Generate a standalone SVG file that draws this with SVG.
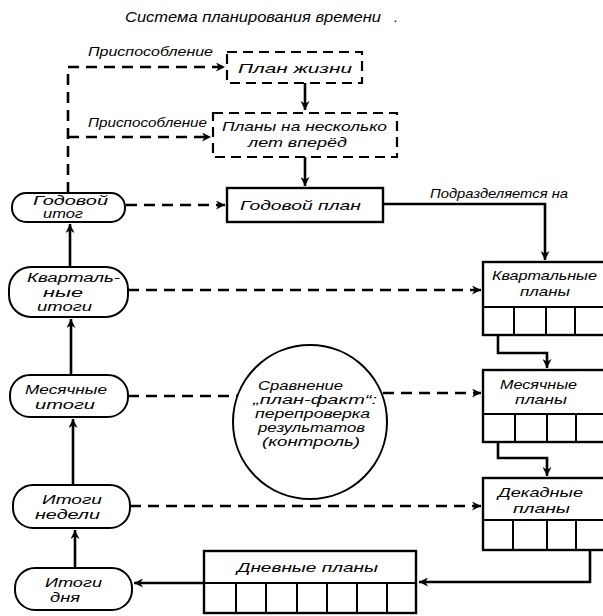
<svg xmlns="http://www.w3.org/2000/svg" width="603" height="616" viewBox="0 0 603 616">
<defs>
<marker id="ah" viewBox="0 0 10 10" refX="10" refY="5" markerWidth="9" markerHeight="9" markerUnits="userSpaceOnUse" orient="auto">
<path d="M0,0 L10,5 L0,10 L3,5 z" fill="#000"/>
</marker>
<style>
text{font-family:"Liberation Sans","DejaVu Sans",sans-serif;font-style:italic;font-size:13.5px;fill:#000}
.s{font-size:12.5px}
.box{fill:none;stroke:#000;stroke-width:2.4}
.dbox{fill:none;stroke:#000;stroke-width:2.2;stroke-dasharray:10 6}
.pill{fill:#fff;stroke:#000;stroke-width:2}
.ln{fill:none;stroke:#000;stroke-width:2.6}
.dl{fill:none;stroke:#000;stroke-width:2.6;stroke-dasharray:11 7}
.cell{stroke:#000;stroke-width:2}
</style>
</defs>
<rect width="603" height="616" fill="#fff"/>
<text x="125" y="22" style="font-size:14px" textLength="256" lengthAdjust="spacingAndGlyphs">Система планирования времени</text>
<text x="394" y="22" style="font-size:14px">.</text>

<g id="connectors">
<path class="dl" d="M68,193 V67 H225" marker-end="url(#ah)"/>
<path class="dl" d="M68,137 H211" marker-end="url(#ah)"/>
<path class="dl" d="M126,205 H225" marker-end="url(#ah)"/>
<path class="dl" d="M128,290 H481" marker-end="url(#ah)"/>
<path class="dl" d="M128,396 H237"/>
<path class="dl" d="M383,393 H481" marker-end="url(#ah)"/>
<path class="dl" d="M130,506 H481" marker-end="url(#ah)"/>
<path class="ln" d="M305,83 V110" marker-end="url(#ah)"/>
<path class="ln" d="M305,157 V186" marker-end="url(#ah)"/>
<path class="ln" d="M383,204 H545 V260" marker-end="url(#ah)"/>
<path class="ln" d="M498,335 V353 H547 V368" marker-end="url(#ah)"/>
<path class="ln" d="M498,442 V458 H547 V476" marker-end="url(#ah)"/>
<path class="ln" d="M590,550 V582 H419" marker-end="url(#ah)"/>
<path class="ln" d="M204,583 H134" marker-end="url(#ah)"/>
<path class="ln" d="M70,267 V224" marker-end="url(#ah)"/>
<path class="ln" d="M71,375 V319" marker-end="url(#ah)"/>
<path class="ln" d="M73,485 V419" marker-end="url(#ah)"/>
<path class="ln" d="M75,568 V530" marker-end="url(#ah)"/>
<text x="88" y="56" textLength="125" lengthAdjust="spacingAndGlyphs">Приспособление</text>
<text x="88" y="127" textLength="119" lengthAdjust="spacingAndGlyphs">Приспособление</text>
<text x="430" y="198" textLength="138" lengthAdjust="spacingAndGlyphs">Подразделяется на</text>
</g>

<g id="plan-zhizni">
<rect class="dbox" x="227" y="52" width="135" height="31"/>
<text x="238" y="73" textLength="114" lengthAdjust="spacingAndGlyphs">План  жизни</text>
</g>
<g id="plany-na-neskolko-let">
<rect class="dbox" x="213" y="113" width="184" height="44"/>
<text x="222" y="131" textLength="165" lengthAdjust="spacingAndGlyphs">Планы на несколько</text>
<text x="248" y="147" textLength="99" lengthAdjust="spacingAndGlyphs">лет вперёд</text>
</g>
<g id="godovoy-plan">
<rect class="box" x="227" y="188" width="156" height="34"/>
<text x="240" y="210" textLength="121" lengthAdjust="spacingAndGlyphs">Годовой план</text>
</g>

<g id="godovoy-itog">
<rect class="pill" x="12" y="193" width="113" height="29" rx="14"/>
<text class="s" x="33" y="205" textLength="75" lengthAdjust="spacingAndGlyphs">Годовой</text>
<text class="s" x="43" y="218" textLength="40" lengthAdjust="spacingAndGlyphs">итог</text>
</g>
<g id="kvartalnye-itogi">
<rect class="pill" x="9" y="267" width="119" height="50" rx="22"/>
<text class="s" x="27" y="282" textLength="93" lengthAdjust="spacingAndGlyphs">Кварталь-</text>
<text class="s" x="43" y="297" textLength="40" lengthAdjust="spacingAndGlyphs">ные</text>
<text class="s" x="37" y="311" textLength="55" lengthAdjust="spacingAndGlyphs">итоги</text>
</g>
<g id="mesyachnye-itogi">
<rect class="pill" x="10" y="375" width="118" height="42" rx="20"/>
<text class="s" x="25" y="394" textLength="82" lengthAdjust="spacingAndGlyphs">Месячные</text>
<text class="s" x="35" y="409" textLength="60" lengthAdjust="spacingAndGlyphs">итоги</text>
</g>
<g id="itogi-nedeli">
<rect class="pill" x="13" y="485" width="117" height="43" rx="20"/>
<text class="s" x="42" y="504" textLength="60" lengthAdjust="spacingAndGlyphs">Итоги</text>
<text class="s" x="35" y="519" textLength="65" lengthAdjust="spacingAndGlyphs">недели</text>
</g>
<g id="itogi-dnya">
<rect class="pill" x="15" y="568" width="117" height="42" rx="20"/>
<text class="s" x="45" y="587" textLength="57" lengthAdjust="spacingAndGlyphs">Итоги</text>
<text class="s" x="50" y="602" textLength="30" lengthAdjust="spacingAndGlyphs">дня</text>
</g>

<g id="sravnenie">
<circle cx="310" cy="422" r="77" fill="#fff" stroke="#000" stroke-width="2"/>
<text class="s" x="258" y="390" textLength="85" lengthAdjust="spacingAndGlyphs">Сравнение</text>
<text class="s" x="253" y="404" textLength="124" lengthAdjust="spacingAndGlyphs">„план-факт“:</text>
<text class="s" x="255" y="418" textLength="115" lengthAdjust="spacingAndGlyphs">перепроверка</text>
<text class="s" x="258" y="432" textLength="107" lengthAdjust="spacingAndGlyphs">результатов</text>
<text class="s" x="262" y="446" textLength="98" lengthAdjust="spacingAndGlyphs">(контроль)</text>
</g>

<g id="kvartalnye-plany">
<rect class="box" x="483" y="262" width="125" height="73"/>
<path class="cell" d="M483,307 H608 M514,307 V335 M546,307 V335 M575,307 V335"/>
<text x="492" y="280" textLength="105" lengthAdjust="spacingAndGlyphs">Квартальные</text>
<text x="520" y="296" textLength="50" lengthAdjust="spacingAndGlyphs">планы</text>
</g>
<g id="mesyachnye-plany">
<rect class="box" x="483" y="370" width="125" height="72"/>
<path class="cell" d="M483,414 H608 M515,414 V442 M547,414 V442 M576,414 V442"/>
<text x="500" y="389" textLength="77" lengthAdjust="spacingAndGlyphs">Месячные</text>
<text x="515" y="404" textLength="52" lengthAdjust="spacingAndGlyphs">планы</text>
</g>
<g id="dekadnye-plany">
<rect class="box" x="483" y="478" width="125" height="72"/>
<path class="cell" d="M483,520 H608 M513,520 V550 M547,520 V550 M576,520 V550"/>
<text x="498" y="497" textLength="85" lengthAdjust="spacingAndGlyphs">Декадные</text>
<text x="513" y="513" textLength="57" lengthAdjust="spacingAndGlyphs">планы</text>
</g>
<g id="dnevnye-plany">
<rect class="box" x="204" y="551" width="212" height="62"/>
<path class="cell" d="M204,583 H416 M236,583 V613 M266,583 V613 M297,583 V613 M327,583 V613 M357,583 V613 M387,583 V613"/>
<text x="237" y="572" textLength="141" lengthAdjust="spacingAndGlyphs">Дневные  планы</text>
</g>
</svg>
